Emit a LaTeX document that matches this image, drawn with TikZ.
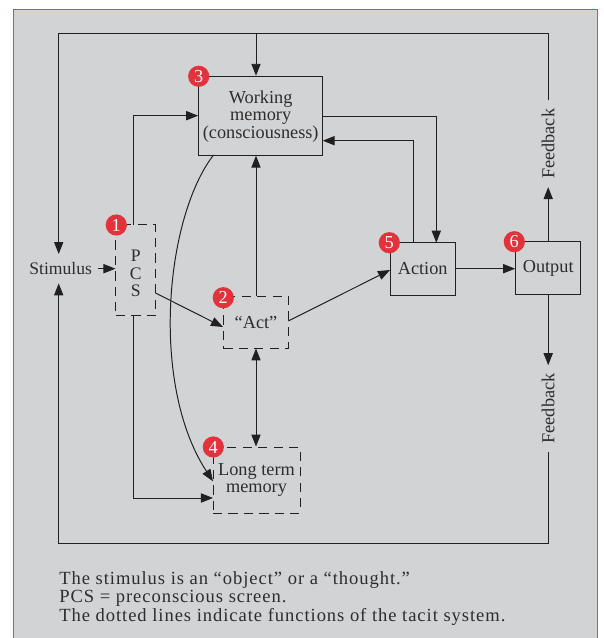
\documentclass[tikz,border=0pt]{standalone}
\usepackage{fontspec}
\setmainfont{Liberation Serif}
\usepackage{xcolor}
\usetikzlibrary{arrows.meta}
\definecolor{panelgray}{RGB}{210,211,213}
\definecolor{panelred}{RGB}{228,70,80}
\definecolor{badgered}{RGB}{228,50,60}
\definecolor{inkgray}{RGB}{45,45,45}
\definecolor{linegray}{RGB}{32,32,32}
\tikzset{
  arr/.style={-{Triangle[length=3mm,width=2.3mm]},line width=0.7pt,color=linegray},
  line/.style={line width=0.7pt,color=linegray},
  solidbox/.style={draw=linegray,line width=0.75pt,align=center,inner sep=0pt,text=inkgray,font=\fontsize{13}{12.3}\selectfont},
  dashbox/.style={solidbox,line width=0.65pt,dash pattern=on 6.5pt off 4.5pt},
  label/.style={inner ysep=0pt,text=inkgray,font=\fontsize{12.5}{12.3}\selectfont},
  badge/.style={circle,fill=badgered,text=white,inner sep=0pt,minimum size=0.53cm,font=\fontsize{13}{13}\selectfont},
}

\begin{document}
\begin{tikzpicture}[x=0.025cm,y=-0.025cm]
\useasboundingbox (0,0) rectangle (604,638);
\fill[panelgray] (13.5,9.5) rectangle (597.7,638);
\draw[panelred,line width=0.9pt] (13.5,638) -- (13.5,9.5) -- (597.7,9.5) -- (597.7,638);

\node[solidbox,minimum width=3.1cm,minimum height=1.97cm] (wm) at (260.7,115.7) {};
\node[label,align=center,font=\fontsize{13}{12.3}\selectfont] (wmtext) at (260.7,116.5) {Working\\memory\\(consciousness)};
\node[dashbox,minimum width=0.99cm,minimum height=2.27cm] (pcs) at (135.75,270.3) {};
\node[label,align=center] (pcstext) at (135.75,273.5) {P\\C\\S};
\node[dashbox,minimum width=1.63cm,minimum height=1.29cm] (act) at (256,322.2) {“Act”};
\node[dashbox,minimum width=2.175cm,minimum height=1.65cm] (ltm) at (256.5,480) {Long term\\memory};
\node[solidbox,minimum width=1.63cm,minimum height=1.32cm] (action) at (422.7,269) {Action};
\node[solidbox,minimum width=1.625cm,minimum height=1.31cm] (output) at (548.2,268) {Output};
\node[label,inner xsep=0.14cm,minimum height=0.72cm] (stimulus) at (60.7,268.7) {Stimulus};
\node[label,rotate=90,inner xsep=0.2cm,font=\fontsize{13}{13}\selectfont] (fbup) at (548.2,143.8) {Feedback};
\node[label,rotate=90,inner xsep=0.2cm,font=\fontsize{13}{13}\selectfont] (fbdown) at (548.2,408.5) {Feedback};

\coordinate (topleft) at (58.7,33);
\coordinate (botleft) at (58.7,543.3);
\coordinate (pcsup) at (133.7,225);
\coordinate (pcsdown) at (133.7,315.7);
\coordinate (pcsside) at (155.5,293);
\coordinate (actin) at (223,327);
\coordinate (actout) at (288.3,321);
\coordinate (actionin) at (390,270);
\coordinate (ltmlow) at (213,498);
\coordinate (ltmcurve) at (213,481.3);
\coordinate (wmcurve) at (213.5,155);
\coordinate (wmback) at (322.7,140.7);
\coordinate (wmright) at (322.7,116.3);
\coordinate (actiontop) at (436.3,242.7);
\coordinate (actionback) at (413.3,242.7);

% feedback loops
\draw[arr] (output.north) -- (fbup.west);
\draw[arr] (fbup.east) |- (topleft) -- (topleft |- stimulus.north);
\draw[arr] (act.north |- topleft) -- (act.north |- wm.north);
\draw[arr] (output.south) -- (fbdown.east);
\draw[arr] (fbdown.west) |- (botleft) -- (botleft |- stimulus.south);

\draw[arr] (stimulus.east) -- (stimulus.east -| pcs.west);
\draw[arr] (pcsup) |- (wm.west);
\draw[arr] (pcsdown) |- (ltmlow);
\draw[arr] (pcsside) -- (actin);
\draw[arr] (act.north) -- (act.north |- wm.south);
\draw[{Triangle[length=3mm,width=2.3mm]}-{Triangle[length=3mm,width=2.3mm]},line] (act.south) -- (act.south |- ltm.north);
\draw[arr] (wmcurve) .. controls (165,218) and (150,385) .. (ltmcurve);
\draw[arr] (actout) -- (actionin);
\draw[arr] (wmright) -| (actiontop);
\draw[arr] (actionback) |- (wmback);
\draw[arr] (action.east |- stimulus) -- (output.west |- stimulus);

\foreach \n/\p in {1/{116.3,225},2/{223.3,297.7},3/{198.7,76.3},4/{213.3,447},5/{389.3,242.7},6/{514.3,241.7}}
  \node[badge] (badge\n) at (\p) {\n};

\node[anchor=north west,align=left,inner sep=0pt,text=inkgray,font=\fontsize{13.2}{13}\selectfont\addfontfeature{LetterSpace=5.1}] (note) at (59,571.5)
  {The stimulus is an “object” or a “thought.”\\PCS = preconscious screen.\\The dotted lines indicate functions of the tacit system.};
\end{tikzpicture}
\end{document}
